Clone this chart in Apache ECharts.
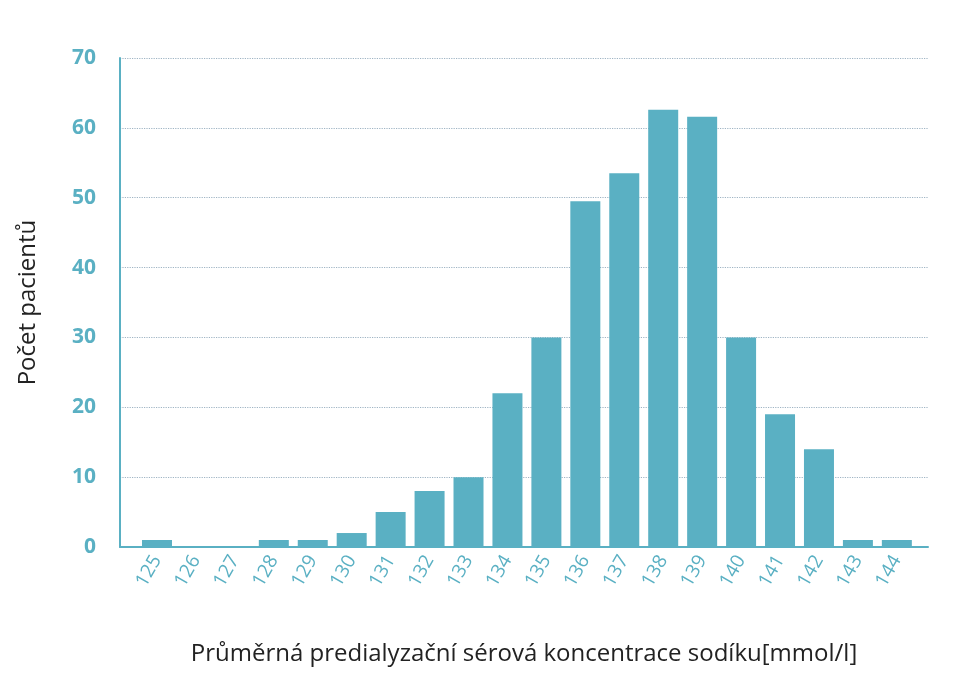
<!DOCTYPE html>
<html lang="cs">
<head>
<meta charset="UTF-8">
<script src="https://cdn.jsdelivr.net/npm/echarts@6/dist/echarts.min.js"></script>
<style>body{margin:0;background:#fff}</style>
</head>
<body>
<div id="chart" style="width:960px;height:685px;"></div>
<script>
// hodnoty
const categories = [125,126,127,128,129,130,131,132,133,134,135,136,137,138,139,140,141,142,143,144];
const counts = [1,0,0,1,1,2,5,8,10,22,30,49.5,53.5,62.6,61.6,30,19,14,1,1];
const yTicks = [0,10,20,30,40,50,60,70];

const teal = '#5ab0c3';
const chart = echarts.init(document.getElementById('chart'));
chart.setOption({
    animation: false,
    grid: { left: 120, right: 32, top: 58, bottom: 138 },
    xAxis: {
        type: 'value',
        min: 124.05, max: 144.8,
        name: 'Průměrná predialyzační sérová koncentrace sodíku[mmol/l]',
        nameLocation: 'middle', nameGap: 95,
        nameTextStyle: { color: '#222', fontSize: 24, fontFamily: 'Open Sans' },
        axisLine: { lineStyle: { color: teal, width: 2 } },
        axisTick: { show: false },
        splitLine: { show: false },
        axisLabel: {
            customValues: categories, rotate: 60, color: teal, fontSize: 19,
            fontFamily: 'Open Sans', margin: 10
        }
    },
    yAxis: {
        type: 'value', min: 0, max: 70, interval: 10,
        name: 'Počet pacientů', nameLocation: 'middle', nameGap: 80,
        nameTextStyle: { color: '#222', fontSize: 24, fontFamily: 'Open Sans' },
        axisLine: { show: true, lineStyle: { color: teal, width: 2 } },
        axisTick: { show: false },
        axisLabel: { color: teal, fontSize: 21, fontWeight: 'bold', fontFamily: 'Open Sans', margin: 24 },
        splitLine: { lineStyle: { color: '#9fb4c4', type: 'dotted', width: 1.2 } }
    },
    series: [{
        type: 'bar',
        barWidth: 30,
        itemStyle: { color: teal },
        data: categories.map((c, i) => [c, counts[i]])
    }]
});
</script>
</body>
</html>
